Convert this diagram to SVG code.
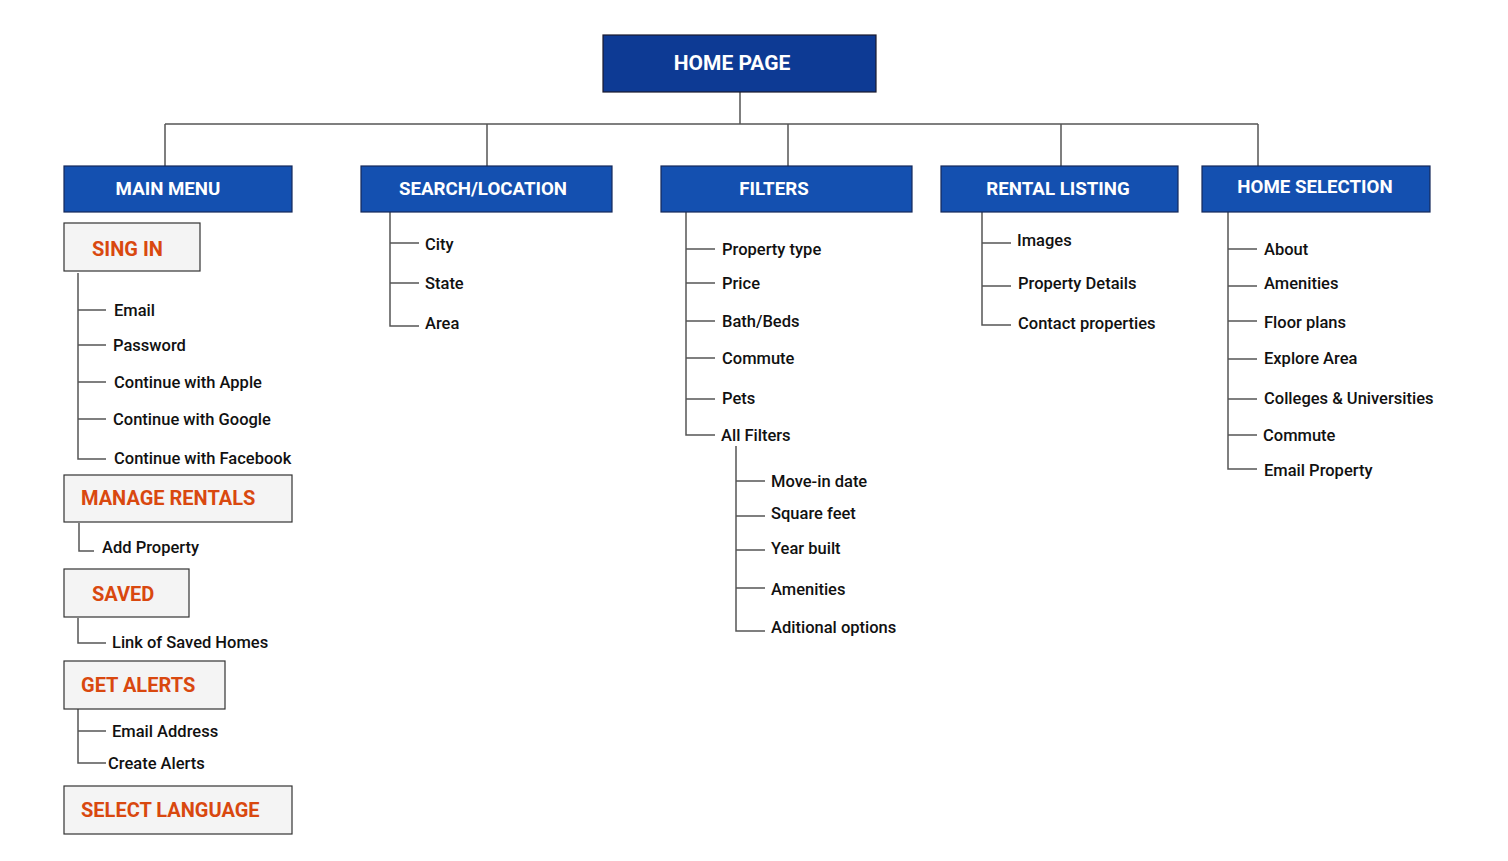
<svg xmlns="http://www.w3.org/2000/svg" width="1508" height="861" viewBox="0 0 1508 861">
<style>
.bg{fill:#ffffff}
.root{fill:#0d3a94;stroke:#1a1a2e;stroke-width:1.2}
.sec{fill:#1450b0;stroke:#14285a;stroke-width:1.2}
.sub{fill:#f4f4f4;stroke:#333;stroke-width:1.2}
.wt{font-family:Roboto,"Liberation Sans",sans-serif;font-weight:700;fill:#ffffff;font-size:18.7px;text-anchor:middle;dominant-baseline:central}
.ot{font-family:Roboto,"Liberation Sans",sans-serif;font-weight:700;fill:#d9480f;font-size:20px;dominant-baseline:central}
.it{font-family:Roboto,"Liberation Sans",sans-serif;font-weight:500;fill:#111;font-size:16.5px;dominant-baseline:central}
.ln{stroke:#555;stroke-width:1.5;fill:none}
</style>
<rect class="bg" x="0" y="0" width="1508" height="861"/>
<g id="connectors">
<path class="ln" d="M740 92V124M165 124H1258M165 124V166M487 124V166M788 124V166M1061 124V166M1258 124V166"/>
<path class="ln" d="M78 273V459H106M78 310H106M78 345H106M78 382H106M78 419H106"/>
<path class="ln" d="M79 523V551H94"/>
<path class="ln" d="M78 618V643H106"/>
<path class="ln" d="M78 709V763H106M78 731H106"/>
<path class="ln" d="M390 212V326H419M390 243H419M390 283H419"/>
<path class="ln" d="M686 212V435H715M686 249H715M686 283H715M686 321H715M686 358H715M686 399H715"/>
<path class="ln" d="M736 446V631H765M736 481H765M736 516H765M736 550H765M736 588H765"/>
<path class="ln" d="M982 212V325H1011M982 243H1011M982 286H1011"/>
<path class="ln" d="M1228 212V469H1257M1228 249H1257M1228 286H1257M1228 321H1257M1228 359H1257M1228 399H1257M1228 435H1257"/>
</g>
<g id="home-page"><rect class="root" x="603" y="35" width="273" height="57"/><text class="wt" x="732" y="63" style="font-size:21px">HOME PAGE</text></g>
<g id="main-menu"><rect class="sec" x="64" y="166" width="228" height="46"/><text class="wt" x="168" y="189">MAIN MENU</text></g>
<g id="search-location"><rect class="sec" x="361" y="166" width="251" height="46"/><text class="wt" x="483" y="189">SEARCH/LOCATION</text></g>
<g id="filters"><rect class="sec" x="661" y="166" width="251" height="46"/><text class="wt" x="774" y="189">FILTERS</text></g>
<g id="rental-listing"><rect class="sec" x="941" y="166" width="237" height="46"/><text class="wt" x="1058" y="189">RENTAL LISTING</text></g>
<g id="home-selection"><rect class="sec" x="1202" y="166" width="228" height="46"/><text class="wt" x="1315" y="187">HOME SELECTION</text></g>
<g id="sing-in"><rect class="sub" x="64" y="223" width="136" height="48"/><text class="ot" x="92" y="249">SING IN</text>
<text class="it" x="114" y="310">Email</text><text class="it" x="113" y="345">Password</text><text class="it" x="114" y="382">Continue with Apple</text><text class="it" x="113" y="419">Continue with Google</text><text class="it" x="114" y="458">Continue with Facebook</text></g>
<g id="manage-rentals"><rect class="sub" x="64" y="475" width="228" height="47"/><text class="ot" x="81" y="498">MANAGE RENTALS</text><text class="it" x="102" y="547">Add Property</text></g>
<g id="saved"><rect class="sub" x="64" y="569" width="125" height="48"/><text class="ot" x="92" y="594">SAVED</text><text class="it" x="112" y="642">Link of Saved Homes</text></g>
<g id="get-alerts"><rect class="sub" x="64" y="661" width="161" height="48"/><text class="ot" x="81" y="685">GET ALERTS</text><text class="it" x="112" y="731">Email Address</text><text class="it" x="108" y="763">Create Alerts</text></g>
<g id="select-language"><rect class="sub" x="64" y="786" width="228" height="48"/><text class="ot" x="81" y="810">SELECT LANGUAGE</text></g>
<g id="search-items"><text class="it" x="425" y="244">City</text><text class="it" x="425" y="283">State</text><text class="it" x="425" y="323">Area</text></g>
<g id="filter-items"><text class="it" x="722" y="249">Property type</text><text class="it" x="722" y="283">Price</text><text class="it" x="722" y="321">Bath/Beds</text><text class="it" x="722" y="358">Commute</text><text class="it" x="722" y="398">Pets</text><text class="it" x="721" y="435">All Filters</text></g>
<g id="all-filters-items"><text class="it" x="771" y="481">Move-in date</text><text class="it" x="771" y="513">Square feet</text><text class="it" x="771" y="548">Year built</text><text class="it" x="771" y="589">Amenities</text><text class="it" x="771" y="627">Aditional options</text></g>
<g id="rental-items"><text class="it" x="1017" y="240">Images</text><text class="it" x="1018" y="283">Property Details</text><text class="it" x="1018" y="323">Contact properties</text></g>
<g id="home-selection-items"><text class="it" x="1264" y="249">About</text><text class="it" x="1264" y="283">Amenities</text><text class="it" x="1264" y="322">Floor plans</text><text class="it" x="1264" y="358">Explore Area</text><text class="it" x="1264" y="398">Colleges &amp; Universities</text><text class="it" x="1263" y="435">Commute</text><text class="it" x="1264" y="470">Email Property</text></g>
</svg>
